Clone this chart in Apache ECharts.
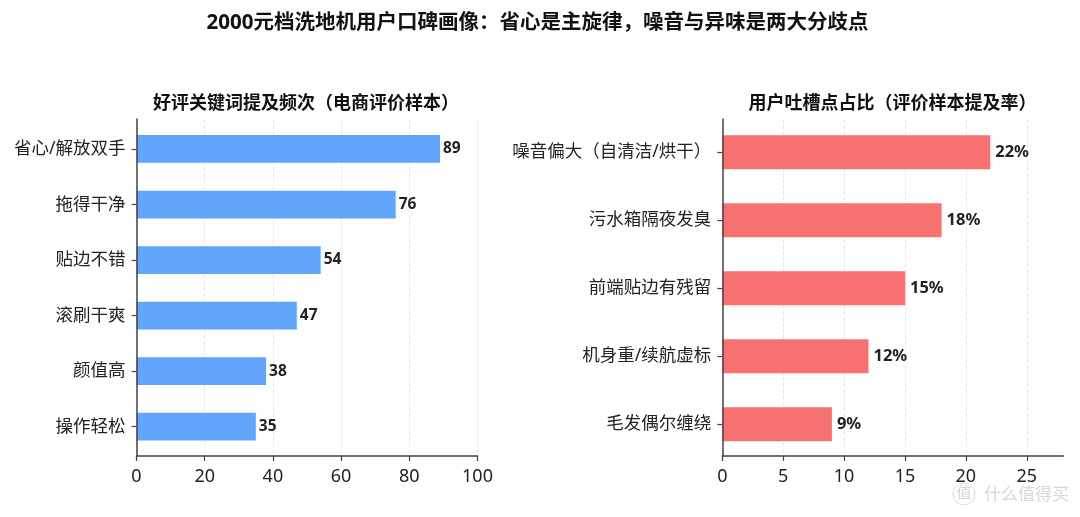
<!DOCTYPE html>
<html>
<head>
<meta charset="utf-8">
<style>
html, body { margin: 0; padding: 0; background: #fff; }
#chart { width: 1080px; height: 517px; }
</style>
<script src="https://cdn.jsdelivr.net/npm/echarts@6/dist/echarts.min.js"></script>
</head>
<body>
<div id="chart"></div>
<script>
const mainTitle = '2000元档洗地机用户口碑画像：省心是主旋律，噪音与异味是两大分歧点';
const leftTitle = '好评关键词提及频次（电商评价样本）';
const rightTitle = '用户吐槽点占比（评价样本提及率）';

const praiseNames = ['省心/解放双手', '拖得干净', '贴边不错', '滚刷干爽', '颜值高', '操作轻松'];
const praiseCounts = [89, 76, 54, 47, 38, 35];
const praiseTicks = [0, 20, 40, 60, 80, 100];

const complaintNames = ['噪音偏大（自清洁/烘干）', '污水箱隔夜发臭', '前端贴边有残留', '机身重/续航虚标', '毛发偶尔缠绕'];
const complaintRates = [22, 18, 15, 12, 9];
const complaintTicks = [0, 5, 10, 15, 20, 25];

const font = '"Noto Sans", "Noto Sans CJK SC", sans-serif';
const axisColor = '#444';
const myChart = echarts.init(document.getElementById('chart'));

// frame grids carry the axis lines, value ticks and gridlines
const frameX = (gridIndex, max, ticks) => ({
    type: 'value',
    gridIndex,
    min: 0,
    max,
    axisLine: { show: true, lineStyle: { color: axisColor, width: 1.5 } },
    axisTick: { show: true, length: 5, customValues: ticks, lineStyle: { color: axisColor, width: 1.2 } },
    axisLabel: { color: '#222', fontSize: 18, fontFamily: font, margin: 12, customValues: ticks },
    splitLine: { show: true, lineStyle: { color: '#e8e8e8', type: 'dashed', width: 1 } }
});

const frameY = (gridIndex) => ({
    type: 'value',
    gridIndex,
    min: 0,
    max: 1,
    z: 3,
    axisLine: { show: true, onZero: false, lineStyle: { color: axisColor, width: 1.5 } },
    axisTick: { show: false },
    axisLabel: { show: false },
    splitLine: { show: false }
});

// bar grids are a little taller or shorter than the frame, so the bars sit as in the picture
const barX = (gridIndex, max) => ({
    type: 'value',
    gridIndex,
    min: 0,
    max,
    show: false
});

const barY = (gridIndex, names) => ({
    type: 'category',
    gridIndex,
    data: names,
    inverse: true,
    z: 3,
    axisLine: { show: false },
    axisTick: { show: true, alignWithLabel: true, length: 5, lineStyle: { color: axisColor, width: 1.2 } },
    axisLabel: { color: '#222', fontSize: 17.5, fontFamily: font, margin: 11, padding: [7, 0, 0, 0] }
});

const barSeries = (index, values, color, formatter, fontSize, distance) => ({
    type: 'bar',
    xAxisIndex: index,
    yAxisIndex: index,
    data: values,
    barWidth: '50%',
    itemStyle: { color },
    label: {
        show: true,
        position: 'right',
        distance,
        formatter,
        color: '#222',
        fontSize,
        fontWeight: 'bold',
        fontFamily: font
    }
});

const titleStyle = (fontSize) => ({ fontSize, fontWeight: 'bold', color: '#111', fontFamily: font });

const option = {
    backgroundColor: '#fff',
    animation: false,
    title: [
        { text: mainTitle, left: 532.5, top: 8, textAlign: 'center', textStyle: titleStyle(20.5) },
        { text: leftTitle, left: 301, top: 90, textAlign: 'center', textStyle: titleStyle(18) },
        { text: rightTitle, left: 887.5, top: 90, textAlign: 'center', textStyle: titleStyle(18) }
    ],
    grid: [
        { left: 136.5, top: 119, width: 341, height: 337 },
        { left: 722.3, top: 119, width: 341, height: 337 },
        { left: 136.5, top: 121.2, width: 341, height: 333.3 },
        { left: 722.3, top: 118.3, width: 341, height: 340 }
    ],
    xAxis: [
        frameX(0, 100, praiseTicks),
        frameX(1, 28, complaintTicks),
        barX(2, 100),
        barX(3, 28)
    ],
    yAxis: [
        frameY(0),
        frameY(1),
        barY(2, praiseNames),
        barY(3, complaintNames)
    ],
    series: [
        barSeries(2, praiseCounts, '#60a5fa', '{c}', 15.5, 3),
        barSeries(3, complaintRates, '#f87171', '{c}%', 16.5, 5)
    ],
    graphic: [
        {
            type: 'circle',
            shape: { cx: 964, cy: 494, r: 11 },
            style: { fill: 'none', stroke: '#dcdcdc', lineWidth: 1 }
        },
        {
            type: 'text',
            x: 964,
            y: 494,
            style: { text: '值', fill: '#d8d8d8', fontSize: 15, fontFamily: font, align: 'center', verticalAlign: 'middle' }
        },
        {
            type: 'text',
            x: 984,
            y: 495,
            style: { text: '什么值得买', fill: '#d8d8d8', fontSize: 17, fontFamily: font, verticalAlign: 'middle' }
        }
    ]
};

myChart.setOption(option);
</script>
</body>
</html>
